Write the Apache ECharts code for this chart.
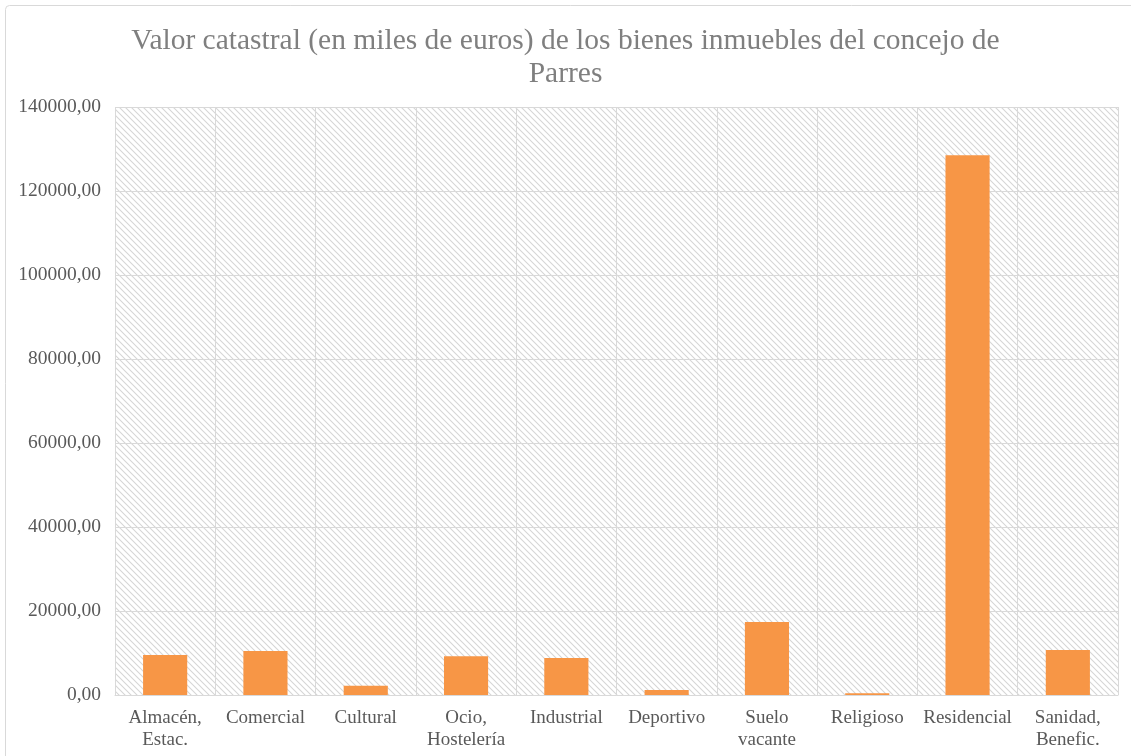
<!DOCTYPE html>
<html><head><meta charset="utf-8">
<script src="https://cdn.jsdelivr.net/npm/echarts@6/dist/echarts.min.js"></script>
<style>html,body{margin:0;padding:0;background:#fff}#c{width:1131px;height:756px}</style>
</head><body><div id="c"></div>
<script>
const categories = ['Almacén,\nEstac.', 'Comercial', 'Cultural', 'Ocio,\nHostelería', 'Industrial', 'Deportivo', 'Suelo\nvacante', 'Religioso', 'Residencial', 'Sanidad,\nBenefic.'];
const values = [9500, 10450, 2200, 9200, 8800, 1200, 17400, 400, 128500, 10700];
const yTicks = [0, 20000, 40000, 60000, 80000, 100000, 120000, 140000];

const pc = document.createElement('canvas');
pc.width = 6; pc.height = 6;
const g = pc.getContext('2d');
g.fillStyle = '#ffffff'; g.fillRect(0,0,6,6);
g.strokeStyle = '#d6d6d6'; g.lineWidth = 1.1;
g.beginPath();
g.moveTo(-1,-1); g.lineTo(7,7);
g.moveTo(-1,5); g.lineTo(1,7);
g.moveTo(5,-1); g.lineTo(7,1);
g.stroke();

const chart = echarts.init(document.getElementById('c'), null, {renderer:'canvas'});
chart.setOption({
  animation:false,
  title:{
    text:'Valor catastral (en miles de euros) de los bienes inmuebles del concejo de\nParres',
    left:'center', top:20,
    textStyle:{fontFamily:'Liberation Serif', fontSize:29.5, fontWeight:'normal', color:'#7f7f7f', lineHeight:33}
  },
  graphic:[{type:'rect', shape:{x:5.5,y:5.5,width:1140,height:760,r:4}, style:{fill:'none', stroke:'#d9d9d9', lineWidth:1}, silent:true, z:-10}],
  grid:{left:115, right:13, top:107, bottom:61, show:true, backgroundColor:{image:pc, repeat:'repeat'}, borderWidth:0},
  xAxis:{
    type:'category', data:categories,
    axisLine:{show:true, lineStyle:{color:'#d9d9d9', width:1}},
    axisTick:{show:false},
    splitLine:{show:true, lineStyle:{color:'#d9d9d9', width:1}},
    axisLabel:{fontFamily:'Liberation Serif', fontSize:19, color:'#595959', margin:12, lineHeight:22, interval:0}
  },
  yAxis:{
    type:'value', min:0, max:140000, interval:20000,
    axisLine:{show:false}, axisTick:{show:false},
    splitLine:{show:true, lineStyle:{color:'#d9d9d9', width:1}},
    axisLabel:{fontFamily:'Liberation Serif', fontSize:19.5, color:'#595959', margin:14,
      formatter:v=>v.toFixed(2).replace('.',',')}
  },
  series:[{type:'bar', data:values, barWidth:'44%', itemStyle:{color:'#f79646'}}]
});
</script></body></html>
